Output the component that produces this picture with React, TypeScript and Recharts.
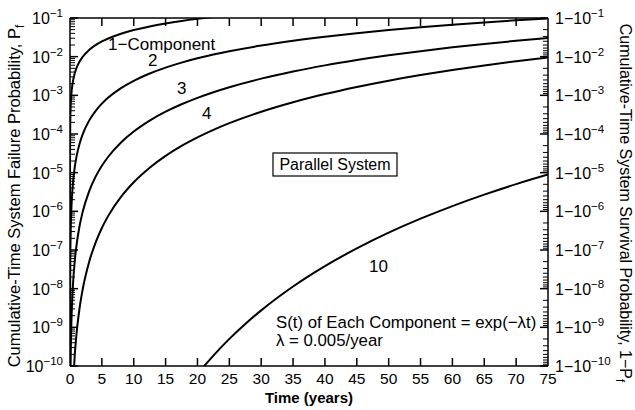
import React from 'react';
import { LineChart, Line, XAxis, YAxis } from 'recharts';

// ---- data (P_f of a parallel system of n components) ----
const t1 = [1e-8, 1e-6, 1e-4, 0.001, 0.01, 0.05, 0.1, 0.2, 0.3, 0.5, 0.75, 1, 1.5, 2, 3, 4, 5, 6, 8, 10, 12.5, 15, 17.5, 20, 22.5];
const pf1 = [5e-11, 5e-9, 5e-7, 5.0e-6, 5.0e-5, 2.5e-4, 5.0e-4, 1.0e-3, 1.499e-3, 2.497e-3, 3.743e-3, 4.988e-3, 7.472e-3, 9.95e-3, 0.01489, 0.0198, 0.02469, 0.02955, 0.03921, 0.04877, 0.06059, 0.07226, 0.08378, 0.09516, 0.1064];

const t2 = [0.001, 0.01, 0.05, 0.1, 0.2, 0.3, 0.5, 0.75, 1, 1.5, 2, 3, 4, 5, 6, 8, 10, 12.5, 15, 17.5, 20, 22.5, 25, 30, 35, 40, 45, 50, 55, 60, 65, 70, 75];
const pf2 = [2.5e-11, 2.5e-9, 6.25e-8, 2.5e-7, 9.99e-7, 2.247e-6, 6.234e-6, 1.401e-5, 2.488e-5, 5.583e-5, 9.9e-5, 2.2165e-4, 3.921e-4, 6.096e-4, 8.734e-4, 1.5375e-3, 2.3786e-3, 3.6708e-3, 5.2211e-3, 7.0193e-3, 9.056e-3, 0.011322, 0.013807, 0.019402, 0.025774, 0.032858, 0.040596, 0.048929, 0.057806, 0.067175, 0.076991, 0.087209, 0.097788];

const t3 = [0.05, 0.1, 0.2, 0.3, 0.5, 0.75, 1, 1.5, 2, 3, 4, 5, 6, 8, 10, 12.5, 15, 17.5, 20, 22.5, 25, 30, 35, 40, 45, 50, 55, 60, 65, 70, 75];
const pf3 = [1.5625e-11, 1.25e-10, 9.985e-10, 3.368e-9, 1.5566e-8, 5.244e-8, 1.2406e-7, 4.172e-7, 9.851e-7, 3.2999e-6, 7.764e-6, 1.5051e-5, 2.5813e-5, 6.0288e-5, 1.16007e-4, 2.22402e-4, 3.77258e-4, 5.88084e-4, 8.61806e-4, 1.204644e-3, 1.622364e-3, 2.702543e-3, 4.137835e-3, 5.956142e-3, 8.179545e-3, 1.082305e-2, 1.389818e-2, 1.741055e-2, 2.136291e-2, 2.575388e-2, 3.057936e-2];

const t4 = [0.5, 0.75, 1, 1.5, 2, 3, 4, 5, 6, 8, 10, 12.5, 15, 17.5, 20, 22.5, 25, 30, 35, 40, 45, 50, 55, 60, 65, 70, 75];
const pf4 = [3.886e-11, 1.963e-10, 6.19e-10, 3.117e-9, 9.801e-9, 4.913e-8, 1.5373e-7, 3.716e-7, 7.629e-7, 2.3639e-6, 5.6578e-6, 1.34746e-5, 2.72596e-5, 4.927e-5, 8.2011e-5, 1.28179e-4, 1.90633e-4, 3.76438e-4, 6.64299e-4, 1.079648e-3, 1.648035e-3, 2.394047e-3, 3.341534e-3, 4.512481e-3, 5.927614e-3, 7.60541e-3, 9.562493e-3];

const t10 = [20, 21, 22.5, 25, 27.5, 30, 35, 40, 45, 50, 55, 60, 65, 70, 75];
const pf10 = [6.1e-11, 9.7e-11, 1.858e-10, 5.02e-10, 1.225e-9, 2.748e-9, 1.138e-8, 3.828e-8, 1.102e-7, 2.805e-7, 6.457e-7, 1.368e-6, 2.704e-6, 5.047e-6, 8.93e-6];

// ---- axes ----
const xTicks = [0, 5, 10, 15, 20, 25, 30, 35, 40, 45, 50, 55, 60, 65, 70, 75];
const decadeTicks = [1e-10, 1e-9, 1e-8, 1e-7, 1e-6, 1e-5, 1e-4, 1e-3, 1e-2, 1e-1];
const decadeExponents = ['\u221210', '\u22129', '\u22128', '\u22127', '\u22126', '\u22125', '\u22124', '\u22123', '\u22122', '\u22121'];
const minorMultipliers = [2, 3, 4, 5, 6, 7, 8, 9];

const leftMinor: number[] = [];
const rightMinor: number[] = [];
for (let k = 0; k < decadeTicks.length - 1; k++) {
  for (const m of minorMultipliers) {
    leftMinor.push(decadeTicks[k] * m);
    rightMinor.push(decadeTicks[k + 1] / m);
  }
}
const leftTicks = [...decadeTicks, ...leftMinor].sort((a, b) => a - b);
const rightTicks = [...decadeTicks, ...rightMinor].sort((a, b) => a - b);

const zip = (ts: number[], vs: number[]) => ts.map((t, i) => ({ t, v: vs[i] }));
const series = [zip(t1, pf1), zip(t2, pf2), zip(t3, pf3), zip(t4, pf4), zip(t10, pf10)];

const FONT = '"Liberation Sans", Arial, Helvetica, sans-serif';
const DOMAIN: [number, number] = [1e-10, 1e-1];
const MAJOR = 8;
const MINOR = 5;
const TICK_COLOR = '#000';

const expOf = (v: number) => {
  const i = decadeTicks.findIndex((d) => Math.abs(Math.log10(d) - Math.log10(v)) < 1e-6);
  return i >= 0 ? decadeExponents[i] : null;
};

const LeftTick = (props: any) => {
  const { x, y, payload } = props;
  const e = expOf(payload.value);
  return (
    <g>
      <line x1={x} x2={x + (e ? MAJOR : MINOR)} y1={y} y2={y} stroke={TICK_COLOR} strokeWidth={e ? 1.5 : 1} />
      {e && (
        <text x={x - 7} y={y + 6} textAnchor="end" fontFamily={FONT} fontSize={16} fill="#000">
          <tspan>10</tspan>
          <tspan fontSize={11.5} dy={-7}>{e}</tspan>
        </text>
      )}
    </g>
  );
};

const RightTick = (props: any) => {
  const { x, y, payload } = props;
  const e = expOf(payload.value);
  return (
    <g>
      <line x1={x} x2={x - (e ? MAJOR : MINOR)} y1={y} y2={y} stroke={TICK_COLOR} strokeWidth={e ? 1.5 : 1} />
      {e && (
        <text x={x + 7} y={y + 6} textAnchor="start" fontFamily={FONT} fontSize={16} fill="#000">
          <tspan>1{'\u2212'}10</tspan>
          <tspan fontSize={11.5} dy={-7}>{e}</tspan>
        </text>
      )}
    </g>
  );
};

const isEnd = (v: number) => v === xTicks[0] || v === xTicks[xTicks.length - 1];

const BottomTick = (props: any) => {
  const { x, y, payload } = props;
  return (
    <g>
      {!isEnd(payload.value) && <line x1={x} x2={x} y1={y} y2={y - MAJOR} stroke={TICK_COLOR} strokeWidth={1.5} />}
      <text x={x} y={y + 18} textAnchor="middle" fontFamily={FONT} fontSize={15.5} fill="#000">
        {payload.value}
      </text>
    </g>
  );
};

const TopTick = (props: any) => {
  const { x, y, payload } = props;
  if (isEnd(payload.value)) return <g />;
  return <line x1={x} x2={x} y1={y} y2={y + MAJOR} stroke={TICK_COLOR} strokeWidth={1.5} />;
};

const axisStroke = { stroke: '#000', strokeWidth: 1.5 };

export default function App() {
  return (
    <div style={{ position: 'absolute', left: 0, top: 0, background: '#fff' }}>
      <LineChart width={635} height={410} margin={{ top: 17, right: 0, bottom: 0, left: 0 }}>
        <XAxis xAxisId="x" type="number" dataKey="t" domain={[0, 75]} ticks={xTicks} allowDataOverflow
          height={44} tickLine={false} tickSize={0} tickMargin={0} axisLine={axisStroke} tick={<BottomTick />} interval={0} />
        <XAxis xAxisId="xt" orientation="top" type="number" dataKey="t" domain={[0, 75]} ticks={xTicks} allowDataOverflow
          height={1} tickLine={false} tickSize={0} tickMargin={0} axisLine={axisStroke} tick={<TopTick />} interval={0} />

        <YAxis yAxisId="l" type="number" scale="log" domain={DOMAIN} allowDataOverflow ticks={leftTicks}
          width={70} tickLine={false} tickSize={0} tickMargin={0} axisLine={axisStroke} tick={<LeftTick />} interval={0} />
        <YAxis yAxisId="r" orientation="right" type="number" scale="log" domain={DOMAIN} allowDataOverflow ticks={rightTicks}
          width={87} tickLine={false} tickSize={0} tickMargin={0} axisLine={axisStroke} tick={<RightTick />} interval={0} />

        {series.map((d, i) => (
          <Line key={i} xAxisId="x" yAxisId="l" data={d} dataKey="v" type="monotone" stroke="#000" strokeWidth={2}
            dot={false} activeDot={false} isAnimationActive={false} />
        ))}

        {/* axis titles */}
        <text transform="rotate(-90)" x={-196} y={20} textAnchor="middle" fontFamily={FONT} fontSize={16.5} fill="#000">
          Cumulative-Time System Failure Probability, P<tspan fontSize={12} dy={4}>f</tspan>
        </text>
        <text transform="rotate(90)" x={203} y={-620} textAnchor="middle" fontFamily={FONT} fontSize={16} fill="#000">
          Cumulative-Time System Survival Probability, 1{'\u2212'}P<tspan fontSize={12} dy={4}>f</tspan>
        </text>
        <text x={309} y={403} textAnchor="middle" fontFamily={FONT} fontSize={15} fontWeight="bold" fill="#000">
          Time (years)
        </text>

        {/* curve labels */}
        <text x={108} y={50} fontFamily={FONT} fontSize={17} fill="#000">1{'\u2212'}Component</text>
        <text x={148} y={66} fontFamily={FONT} fontSize={17} fill="#000">2</text>
        <text x={177} y={94} fontFamily={FONT} fontSize={17} fill="#000">3</text>
        <text x={202} y={119} fontFamily={FONT} fontSize={17} fill="#000">4</text>
        <text x={369} y={272} fontFamily={FONT} fontSize={17} fill="#000">10</text>

        {/* boxed title */}
        <rect x={273} y={153} width={124} height={23} fill="#fff" stroke="#000" strokeWidth={1.2} />
        <text x={335} y={170} textAnchor="middle" fontFamily={FONT} fontSize={16} fill="#000">Parallel System</text>

        {/* model note */}
        <text x={276} y={328} fontFamily={FONT} fontSize={16.8} fill="#000">S(t) of Each Component = exp({'\u2212'}{'\u03bb'}t)</text>
        <text x={276} y={346} fontFamily={FONT} fontSize={16.8} fill="#000">{'\u03bb'} = 0.005/year</text>
      </LineChart>
    </div>
  );
}
